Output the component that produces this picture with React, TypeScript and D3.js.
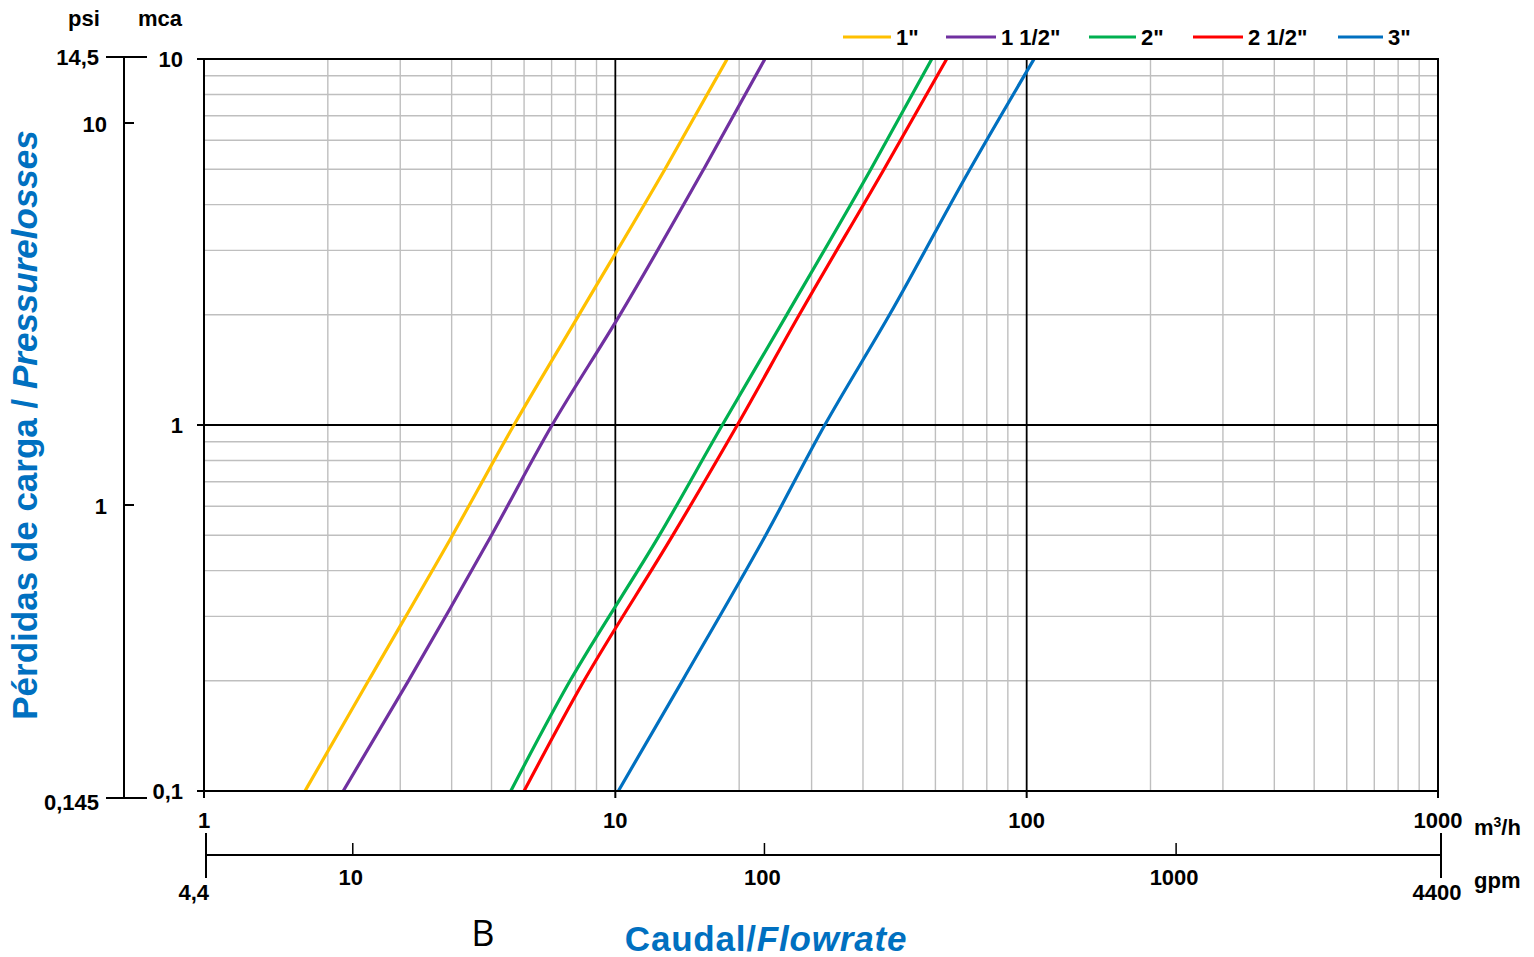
import React from "react";
import * as d3 from "d3";

// ---- data ----
const lossLevels = [0.1, 0.2, 0.5, 1, 2, 5, 10]; // mca
const flow1 = [1.76, 2.51, 4.02, 5.67, 8.16, 13.2, 18.7];
const flow1_5 = [2.18, 3.14, 5.0, 7.02, 10.26, 16.4, 23.1];
const flow2 = [5.57, 7.76, 12.8, 18.2, 26.1, 41.8, 58.8];
const flow2_5 = [6.0, 8.39, 13.8, 19.8, 28.0, 45.0, 63.9];
const flow3 = [10.17, 14.55, 23.2, 32.3, 46.4, 72.8, 104.2];

const seriesNames = ['1"', '1 1/2"', '2"', '2 1/2"', '3"'];
const seriesFlows = [flow1, flow1_5, flow2, flow2_5, flow3];
const seriesColors = ["#FFC000", "#7030A0", "#00B050", "#FF0000", "#0070C0"];

const m3hTicks = [1, 10, 100, 1000];
const gpmTicks = [10, 100, 1000];
const gpmEnds = [4.4, 4400];
const gpmEndLabels = ["4,4", "4400"];
const mcaTicks = [0.1, 1, 10];
const mcaTickLabels = ["0,1", "1", "10"];
const psiTicks = [1, 10];
const psiEnds = [0.145, 14.5];
const psiEndLabels = ["0,145", "14,5"];

const minorX = [2, 3, 4, 5, 6, 7, 8, 9, 20, 30, 40, 50, 60, 70, 80, 90, 200, 300, 400, 500, 600, 700, 800, 900];
const minorY = [0.2, 0.3, 0.4, 0.5, 0.6, 0.7, 0.8, 0.9, 2, 3, 4, 5, 6, 7, 8, 9];

// ---- layout ----
const W = 1534, H = 957;
const L = 204, R = 1438, T = 59, B = 791;
const FONT = "'Liberation Sans', Arial, sans-serif";
const BLUE = "#0070C0";
const FS = 22;

const x = d3.scaleLog().domain([1, 1000]).range([L, R]);
const y = d3.scaleLog().domain([0.1, 10]).range([B, T]);
const gpm = d3.scaleLog().domain([4.4, 4400]).range([206, 1441]);
const psi = d3.scaleLog().domain([0.145, 1, 10, 14.5]).range([798, 505, 123, 57]);

const line = d3.line<[number, number]>().x(d => x(d[0])).y(d => y(d[1])).curve(d3.curveMonotoneY);

const legendX = [843, 946, 1089, 1193, 1338];
const legendLen = [48, 50, 47, 50, 45];

export default function App() {
  return (
    <svg width={W} height={H} style={{ position: "absolute", left: 0, top: 0, background: "#fff" }}
      fontFamily={FONT}>
      <defs>
        <clipPath id="plot"><rect x={L} y={T} width={R - L} height={B - T} /></clipPath>
      </defs>
      {/* minor grid */}
      {minorX.map(v => (
        <line key={"mx" + v} x1={x(v)} x2={x(v)} y1={T} y2={B} stroke="#BFBFBF" strokeWidth={1.4} />
      ))}
      {minorY.map(v => (
        <line key={"my" + v} x1={L} x2={R} y1={y(v)} y2={y(v)} stroke="#BFBFBF" strokeWidth={1.4} />
      ))}
      {/* major grid */}
      {[10, 100].map(v => (
        <line key={"Mx" + v} x1={x(v)} x2={x(v)} y1={T} y2={B} stroke="#000" strokeWidth={1.8} />
      ))}
      <line x1={L} x2={R} y1={y(1)} y2={y(1)} stroke="#000" strokeWidth={1.8} />

      {/* series */}
      <g clipPath="url(#plot)">
        {seriesFlows.map((fl, i) => (
          <path key={i} d={line(fl.map((f, j) => [f, lossLevels[j]] as [number, number])) || ""}
            fill="none" stroke={seriesColors[i]} strokeWidth={3.2} strokeLinejoin="round" />
        ))}
      </g>

      {/* frame */}
      <rect x={L} y={T} width={R - L} height={B - T} fill="none" stroke="#000" strokeWidth={2} />

      {/* mca axis ticks and labels */}
      {mcaTicks.map((v, i) => (
        <g key={"mca" + v}>
          <line x1={197} x2={L} y1={y(v)} y2={y(v)} stroke="#000" strokeWidth={2} />
          <text x={183} y={y(v) + 8} textAnchor="end" fontSize={FS} fontWeight="bold">{mcaTickLabels[i]}</text>
        </g>
      ))}
      <text x={160} y={26} textAnchor="middle" fontSize={FS} fontWeight="bold">mca</text>

      {/* psi axis */}
      <line x1={124} x2={124} y1={psi(14.5)} y2={psi(0.145)} stroke="#000" strokeWidth={2} />
      {psiEnds.map((v, i) => (
        <g key={"pe" + v}>
          <line x1={106} x2={147} y1={psi(v)} y2={psi(v)} stroke="#000" strokeWidth={2} />
          <text x={99} y={psi(v) + (i === 0 ? 12 : 8)} textAnchor="end" fontSize={FS} fontWeight="bold">{psiEndLabels[i]}</text>
        </g>
      ))}
      {psiTicks.map(v => (
        <g key={"pt" + v}>
          <line x1={124} x2={134} y1={psi(v)} y2={psi(v)} stroke="#000" strokeWidth={2} />
          <text x={107} y={psi(v) + 9} textAnchor="end" fontSize={FS} fontWeight="bold">{String(v)}</text>
        </g>
      ))}
      <text x={84} y={26} textAnchor="middle" fontSize={FS} fontWeight="bold">psi</text>

      {/* m3/h axis */}
      {m3hTicks.map(v => (
        <g key={"xt" + v}>
          <line x1={x(v)} x2={x(v)} y1={B} y2={798} stroke="#000" strokeWidth={2} />
          <text x={x(v)} y={828} textAnchor="middle" fontSize={FS} fontWeight="bold">{String(v)}</text>
        </g>
      ))}
      <text x={1474} y={835} fontSize={FS} fontWeight="bold">m<tspan dy={-8} fontSize={14}>3</tspan><tspan dy={8}>/h</tspan></text>

      {/* gpm axis */}
      <line x1={gpm(4.4)} x2={gpm(4400)} y1={855} y2={855} stroke="#000" strokeWidth={2} />
      {gpmEnds.map((v, i) => (
        <g key={"ge" + v}>
          <line x1={gpm(v)} x2={gpm(v)} y1={833} y2={878} stroke="#000" strokeWidth={2} />
          <text x={i === 0 ? gpm(v) + 3 : gpm(v) - 4} y={900} textAnchor={i === 0 ? "end" : "middle"} fontSize={FS} fontWeight="bold">{gpmEndLabels[i]}</text>
        </g>
      ))}
      {gpmTicks.map(v => (
        <g key={"gt" + v}>
          <line x1={gpm(v)} x2={gpm(v)} y1={843} y2={855} stroke="#000" strokeWidth={1.5} />
          <text x={gpm(v) - 2} y={885} textAnchor="middle" fontSize={FS} fontWeight="bold">{String(v)}</text>
        </g>
      ))}
      <text x={1474} y={888} fontSize={FS} fontWeight="bold">gpm</text>

      {/* titles */}
      <text transform="translate(37,425) rotate(-90)" textAnchor="middle" fontSize={35} fontWeight="bold" fill={BLUE}>
        Pérdidas de carga / <tspan fontStyle="italic">Pressurelosses</tspan>
      </text>
      <text x={766} y={951} textAnchor="middle" fontSize={35} fontWeight="bold" fill={BLUE} letterSpacing={0.8}>
        Caudal/<tspan fontStyle="italic">Flowrate</tspan>
      </text>
      <text x={483} y={946} textAnchor="middle" fontSize={36} fontFamily="'Open Sans', sans-serif" fill="#000">B</text>

      {/* legend */}
      {seriesNames.map((n, i) => (
        <g key={"lg" + i}>
          <line x1={legendX[i]} x2={legendX[i] + legendLen[i]} y1={37} y2={37} stroke={seriesColors[i]} strokeWidth={3} />
          <text x={legendX[i] + legendLen[i] + 5} y={45} fontSize={FS} fontWeight="bold">{n}</text>
        </g>
      ))}
    </svg>
  );
}
